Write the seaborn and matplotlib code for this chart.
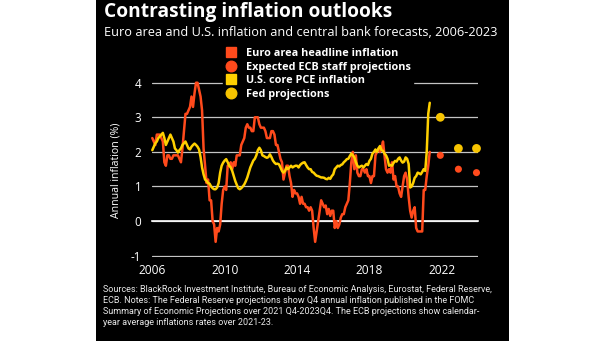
import numpy as np
import pandas as pd
import matplotlib
matplotlib.use("Agg")
import matplotlib.pyplot as plt
import seaborn as sns
from matplotlib.lines import Line2D
from matplotlib.patches import Rectangle

# ---- data -------------------------------------------------------------
START_YEAR = 2006  # monthly series start in January 2006, end May 2021

euro_headline = [
    2.4, 2.3, 2.2, 2.5, 2.5, 2.5, 2.4, 2.3, 1.7, 1.6, 1.9, 1.9,   # 2006
    1.8, 1.8, 1.9, 1.9, 1.9, 1.9, 1.8, 1.7, 2.1, 2.6, 3.1, 3.1,   # 2007
    3.2, 3.3, 3.6, 3.3, 3.7, 4.0, 4.0, 3.8, 3.6, 3.2, 2.1, 1.6,   # 2008
    1.1, 1.2, 0.6, 0.6, 0.0, -0.1, -0.6, -0.2, -0.3, -0.1, 0.5, 0.9,  # 2009
    1.0, 0.9, 1.6, 1.6, 1.7, 1.5, 1.7, 1.6, 1.9, 1.9, 1.9, 2.2,   # 2010
    2.3, 2.4, 2.7, 2.8, 2.7, 2.7, 2.6, 2.6, 3.0, 3.0, 3.0, 2.8,   # 2011
    2.7, 2.7, 2.7, 2.6, 2.4, 2.4, 2.4, 2.6, 2.6, 2.5, 2.2, 2.2,   # 2012
    2.0, 1.8, 1.7, 1.2, 1.4, 1.6, 1.6, 1.3, 1.1, 0.7, 0.9, 0.8,   # 2013
    0.8, 0.7, 0.5, 0.7, 0.5, 0.5, 0.4, 0.4, 0.3, 0.4, 0.3, -0.2,  # 2014
    -0.6, -0.3, 0.0, 0.3, 0.6, 0.5, 0.4, 0.45, 0.2, 0.35, 0.15, 0.3,  # 2015
    0.3, -0.2, 0.0, -0.2, -0.1, 0.1, 0.2, 0.2, 0.4, 0.5, 0.6, 1.1,  # 2016
    1.7, 2.0, 1.5, 1.9, 1.4, 1.3, 1.3, 1.5, 1.5, 1.4, 1.5, 1.3,   # 2017
    1.3, 1.1, 1.3, 1.3, 1.9, 2.0, 2.1, 2.0, 2.1, 2.3, 1.9, 1.5,   # 2018
    1.4, 1.5, 1.4, 1.7, 1.2, 1.3, 1.0, 1.0, 0.8, 0.7, 1.0, 1.3,   # 2019
    1.4, 1.2, 0.7, 0.3, 0.1, 0.3, 0.4, -0.2, -0.3, -0.3, -0.3, -0.3,  # 2020
    0.9, 0.9, 1.3, 1.6, 2.0,                                      # 2021
]

us_core_pce = [
    2.05, 2.15, 2.25, 2.3, 2.4, 2.45, 2.5, 2.55, 2.4, 2.2, 2.3, 2.4,   # 2006
    2.5, 2.4, 2.3, 2.1, 2.05, 1.98, 2.05, 2.1, 2.2, 2.25, 2.3, 2.2,    # 2007
    2.1, 2.07, 2.15, 2.2, 2.24, 2.2, 2.15, 2.07, 1.85, 1.55, 1.35, 1.2,  # 2008
    1.16, 1.1, 1.08, 1.0, 0.95, 0.92, 0.92, 0.97, 1.1, 1.4, 1.6, 1.69,  # 2009
    1.75, 1.79, 1.7, 1.6, 1.55, 1.45, 1.3, 1.16, 1.05, 0.95, 0.92, 0.95,  # 2010
    1.0, 1.06, 1.15, 1.26, 1.4, 1.55, 1.65, 1.75, 1.8, 1.9, 2.05, 2.12,  # 2011
    2.05, 1.9, 1.88, 1.85, 1.83, 1.85, 1.93, 1.85, 1.75, 1.69, 1.65, 1.66,  # 2012
    1.64, 1.55, 1.45, 1.4, 1.45, 1.55, 1.5, 1.55, 1.6, 1.55, 1.58, 1.6,  # 2013
    1.6, 1.55, 1.62, 1.66, 1.69, 1.7, 1.62, 1.55, 1.5, 1.5, 1.42, 1.4,  # 2014
    1.35, 1.31, 1.3, 1.28, 1.26, 1.26, 1.25, 1.22, 1.21, 1.25, 1.22, 1.3,  # 2015
    1.35, 1.5, 1.55, 1.6, 1.58, 1.62, 1.64, 1.7, 1.74, 1.79, 1.8, 1.88,  # 2016
    1.95, 1.9, 1.84, 1.7, 1.6, 1.55, 1.58, 1.6, 1.55, 1.6, 1.65, 1.62,  # 2017
    1.74, 1.8, 1.95, 2.0, 2.07, 2.0, 2.1, 2.17, 2.05, 2.03, 1.95, 1.9,  # 2018
    1.8, 1.6, 1.62, 1.6, 1.68, 1.74, 1.72, 1.8, 1.84, 1.75, 1.69, 1.72,  # 2019
    1.84, 1.8, 1.65, 0.97, 1.0, 1.1, 1.25, 1.3, 1.4, 1.38, 1.35, 1.42,  # 2020
    1.5, 1.45, 2.0, 3.1, 3.42,                                          # 2021
]

# Q4 projections for 2021-2023
proj_years = [2021, 2022, 2023]
ecb_projections = [1.9, 1.5, 1.4]
fed_projections = [3.0, 2.1, 2.1]

x_ticks = [2006, 2010, 2014, 2018, 2022]
y_ticks = [-1, 0, 1, 2, 3, 4]
y_tick_labels = ["-1", "0", "1", "2", "3", "4"]

series_names = [
    "Euro area headline inflation",
    "Expected ECB staff projections",
    "U.S. core PCE inflation",
    "Fed projections",
]

# ---- styling ----------------------------------------------------------
ORANGE = "#ff4a1c"
YELLOW = "#ffd000"
GOLD = "#f7c400"
WHITE = "#ffffff"
GRID = "#c4c4c4"

sns.set_theme(style="dark")
plt.rcParams["font.family"] = ["Open Sans", "DejaVu Sans"]

W, H = 605, 341
fig = plt.figure(figsize=(W / 100, H / 100), dpi=100, facecolor="white")
fig.patches.append(Rectangle((96 / W, 0), 413 / W, 1, transform=fig.transFigure,
                             facecolor="black", edgecolor="none", zorder=-10))

ax = fig.add_axes([152.3 / W, 0.2452, 325.7 / W, 0.5224])
ax.set_facecolor("none")

# long-form frame for the two monthly series
t = START_YEAR + np.arange(len(euro_headline)) / 12
df = pd.DataFrame({
    "date": np.concatenate([t, t]),
    "inflation": euro_headline + us_core_pce,
    "series": [series_names[0]] * len(euro_headline) + [series_names[2]] * len(us_core_pce),
})
sns.lineplot(data=df, x="date", y="inflation", hue="series",
             hue_order=[series_names[0], series_names[2]],
             palette={series_names[0]: ORANGE, series_names[2]: YELLOW},
             linewidth=1.8, legend=False, ax=ax, zorder=4, clip_on=False)

proj_x = np.array(proj_years) + 11 / 12
sns.scatterplot(x=proj_x, y=ecb_projections, color=ORANGE, s=26, edgecolor="none",
                ax=ax, zorder=5, clip_on=False)
sns.scatterplot(x=proj_x, y=fed_projections, color=GOLD, s=40, edgecolor="none",
                ax=ax, zorder=5, clip_on=False)

ax.set_xlim(2006, 2024)
ax.set_ylim(-1.05, 4.1)

# horizontal grid only
ax.set_yticks(y_ticks)
ax.set_yticklabels(y_tick_labels)
ax.yaxis.grid(True, color=GRID, linewidth=0.9)
ax.xaxis.grid(False)
ax.tick_params(axis="y", length=0, pad=8, labelsize=8.4, labelcolor=WHITE)

# zero line acts as the x axis with small tick marks
for side in ["top", "right", "left"]:
    ax.spines[side].set_visible(False)
ax.spines["bottom"].set_position(("data", 0))
ax.spines["bottom"].set_color(WHITE)
ax.spines["bottom"].set_linewidth(1.2)
ax.spines["bottom"].set_zorder(3)
ax.set_xticks(x_ticks)
ax.tick_params(axis="x", direction="out", length=2.5, width=1, color=WHITE,
               labelbottom=False)

# year labels along the bottom edge
sec = ax.secondary_xaxis("bottom")
sec.set_xticks(x_ticks)
sec.set_xticklabels([str(v) for v in x_ticks])
sec.tick_params(length=0, pad=4.5, labelsize=8.6, labelcolor=WHITE)
sec.spines["bottom"].set_visible(False)

ax.set_xlabel("")
ax.set_ylabel("Annual inflation (%)", color=WHITE, fontsize=7.6)
ax.yaxis.set_label_coords(-0.094, 0.49)

# legend
handles = [
    Line2D([], [], marker="s", linestyle="none", color=ORANGE, markersize=7.2),
    Line2D([], [], marker="o", linestyle="none", color=ORANGE, markersize=7.6),
    Line2D([], [], marker="s", linestyle="none", color=YELLOW, markersize=7.2),
    Line2D([], [], marker="o", linestyle="none", color=GOLD, markersize=7.6),
]
leg = fig.legend(handles, series_names, loc="upper left",
                 bbox_to_anchor=(223 / W, 1 - 45.5 / H), frameon=True,
                 facecolor="black", edgecolor="black", framealpha=1,
                 borderpad=0.25, borderaxespad=0, handlelength=0.9,
                 handletextpad=0.95, labelspacing=0.23,
                 prop={"family": "Open Sans", "weight": "bold", "size": 7.8})
for txt in leg.get_texts():
    txt.set_color(WHITE)

# titles
fig.text(104 / W, 1 - 1.5 / H, "Contrasting inflation outlooks", color=WHITE,
         fontsize=13.8, fontweight="bold", ha="left", va="top")
fig.text(104 / W, 1 - 26 / H,
         "Euro area and U.S. inflation and central bank forecasts, 2006-2023",
         color=WHITE, fontsize=9.15, ha="left", va="top")

# source note
note = ("Sources: BlackRock Investment Institute, Bureau of Economic Analysis, Eurostat, Federal Reserve,\n"
        "ECB. Notes: The Federal Reserve projections show Q4 annual inflation published in the FOMC\n"
        "Summary of Economic Projections over 2021 Q4-2023Q4. The ECB projections show calendar-\n"
        "year average inflations rates over 2021-23.")
fig.text(103 / W, 1 - 285.5 / H, note, color="#e8e8e8", fontsize=6.5,
         family=["Roboto", "DejaVu Sans"], ha="left", va="top",
         linespacing=1.26)

fig.savefig("out.png", dpi=100, facecolor="white")
